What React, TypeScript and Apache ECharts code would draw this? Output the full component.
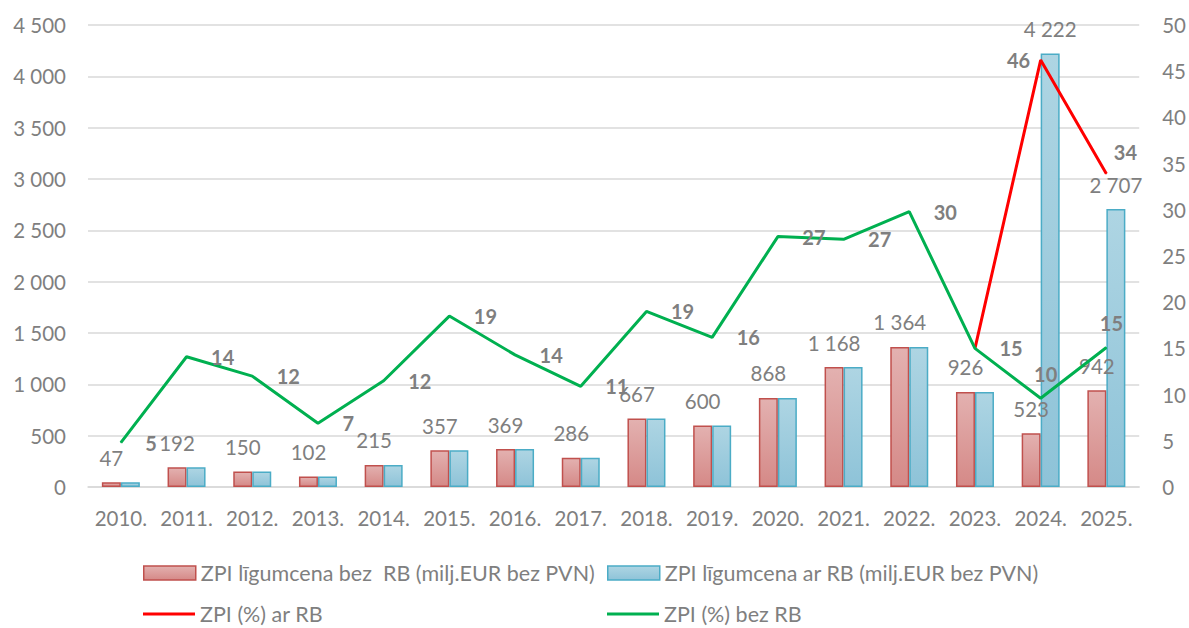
import React, { useEffect, useRef } from "react";
import * as echarts from "echarts";

const categories = ["2010.", "2011.", "2012.", "2013.", "2014.", "2015.", "2016.", "2017.", "2018.", "2019.", "2020.", "2021.", "2022.", "2023.", "2024.", "2025."];
const priceNoRB = [47, 192, 150, 102, 215, 357, 369, 286, 667, 600, 868, 1168, 1364, 926, 523, 942];
const priceWithRB = [47, 192, 150, 102, 215, 357, 369, 286, 667, 600, 868, 1168, 1364, 926, 4222, 2707];
const pctNoRB = [4.8, 14.1, 12.0, 6.9, 11.5, 18.5, 14.3, 10.9, 19.0, 16.2, 27.1, 26.8, 29.8, 15.0, 9.6, 15.1];
const pctWithRB: (number | null)[] = [null, null, null, null, null, null, null, null, null, null, null, null, null, 15.0, 46.2, 33.9];

const leftTicks = { min: 0, max: 4500, interval: 500 };
const rightTicks = { min: 0, max: 50, interval: 5 };

const NAME_BAR_RED = "ZPI līgumcena bez  RB (milj.EUR bez PVN)";
const NAME_BAR_BLUE = "ZPI līgumcena ar RB (milj.EUR bez PVN)";
const NAME_LINE_RED = "ZPI (%) ar RB";
const NAME_LINE_GREEN = "ZPI (%) bez RB";

const FONT = "Lato";
const GRAY = "#7f7f7f";

const fmt = (v: number) => String(Math.round(v)).replace(/\B(?=(\d{3})+(?!\d))/g, " ");

const redFill = new echarts.graphic.LinearGradient(0, 0, 0, 1, [
  { offset: 0, color: "#e3b1b0" },
  { offset: 1, color: "#d58987" },
]);
const blueFill = new echarts.graphic.LinearGradient(0, 0, 0, 1, [
  { offset: 0, color: "#aed5e3" },
  { offset: 1, color: "#8ec3d8" },
]);

export default function App() {
  const ref = useRef<HTMLDivElement>(null);
  useEffect(() => {
    if (!ref.current) return;
    const chart = echarts.init(ref.current, null, { renderer: "svg" });
    const legendText = { color: GRAY, fontSize: 21.5, lineHeight: 20, fontFamily: FONT };
    const mkLegend = (name: string, left: number, top: number, isLine: boolean, color: string, border?: string) => ({
      show: true,
      left,
      top,
      padding: 0,
      itemWidth: 52,
      itemHeight: isLine ? 3 : 14,
      icon: "rect",
      textStyle: legendText,
      data: [
        {
          name,
          icon: "rect",
          itemStyle: isLine
            ? { color, borderWidth: 0 }
            : { color, borderColor: border, borderWidth: 1.5 },
        },
      ],
      selectedMode: false,
    });

    const greenData = pctNoRB.map((v, i) => {
      if (i === 14 || i === 15) {
        return { value: v, label: { position: "top", distance: 14, offset: [5, 0] } };
      }
      return { value: v };
    });
    const redData = pctWithRB.map((v, i) => {
      if (i === 13) return { value: v, label: { show: false } };
      if (i === 14) return { value: v, label: { position: "left", distance: 10 } };
      if (i === 15) return { value: v, label: { position: "right", distance: 7, offset: [0, -22] } };
      return { value: v };
    });
    const blueData = priceWithRB.map((v, i) => ({
      value: v,
      label: { show: i >= 14 },
    }));

    const barLabel = {
      show: true,
      position: "top",
      distance: 14,
      color: GRAY,
      fontSize: 20.5,
      fontFamily: FONT,
      formatter: (p: any) => fmt(p.value),
    };
    const lineLabel = {
      show: true,
      position: "right",
      distance: 24,
      color: GRAY,
      fontSize: 20,
      fontWeight: "bold",
      fontFamily: FONT,
      formatter: (p: any) => String(Math.round(p.value)),
    };

    chart.setOption({
      animation: false,
      backgroundColor: "#ffffff",
      textStyle: { fontFamily: FONT },
      grid: { left: 88, right: 49, top: 25, bottom: 141, containLabel: false },
      legend: [
        mkLegend(NAME_BAR_RED, 143, 562, false, redFill as any, "#c0504d"),
        mkLegend(NAME_BAR_BLUE, 607, 562, false, blueFill as any, "#4bacc6"),
        mkLegend(NAME_LINE_RED, 143, 603, true, "#ff0000"),
        mkLegend(NAME_LINE_GREEN, 607, 603, true, "#00b050"),
      ],
      xAxis: {
        type: "category",
        data: categories,
        axisLine: { show: true, lineStyle: { color: "#d9d9d9", width: 1.5 } },
        axisTick: { show: false },
        axisLabel: { color: GRAY, fontSize: 20.5, fontFamily: FONT, margin: 20, interval: 0 },
      },
      yAxis: [
        {
          type: "value",
          ...leftTicks,
          axisLine: { show: false },
          axisTick: { show: false },
          splitLine: { show: true, lineStyle: { color: "#d9d9d9", width: 1.5 } },
          axisLabel: { color: GRAY, fontSize: 20.5, fontFamily: FONT, margin: 22, formatter: (v: number) => fmt(v) },
        },
        {
          type: "value",
          ...rightTicks,
          position: "right",
          axisLine: { show: false },
          axisTick: { show: false },
          splitLine: { show: false },
          axisLabel: { color: GRAY, fontSize: 20.5, fontFamily: FONT, margin: 23 },
        },
      ],
      series: [
        {
          name: NAME_BAR_RED,
          type: "bar",
          yAxisIndex: 0,
          data: priceNoRB,
          barWidth: 19,
          barGap: "0%",
          itemStyle: { color: redFill, borderColor: "#c0504d", borderWidth: 1.5 },
          label: barLabel,
        },
        {
          name: NAME_BAR_BLUE,
          type: "bar",
          yAxisIndex: 0,
          data: blueData,
          barWidth: 19,
          barGap: "0%",
          itemStyle: { color: blueFill, borderColor: "#4bacc6", borderWidth: 1.5 },
          label: barLabel,
        },
        {
          name: NAME_LINE_RED,
          type: "line",
          yAxisIndex: 1,
          data: redData,
          symbol: "circle",
          symbolSize: 1,
          showSymbol: true,
          itemStyle: { color: "#ff0000" },
          lineStyle: { color: "#ff0000", width: 3 },
          label: lineLabel,
          z: 3,
        },
        {
          name: NAME_LINE_GREEN,
          type: "line",
          yAxisIndex: 1,
          data: greenData,
          symbol: "circle",
          symbolSize: 1,
          showSymbol: true,
          itemStyle: { color: "#00b050" },
          lineStyle: { color: "#00b050", width: 3 },
          label: lineLabel,
          z: 4,
        },
      ],
    });
    return () => chart.dispose();
  }, []);
  return (
    <div
      ref={ref}
      style={{ position: "fixed", left: 0, top: 0, width: 1189, height: 628, background: "#fff" }}
    />
  );
}
